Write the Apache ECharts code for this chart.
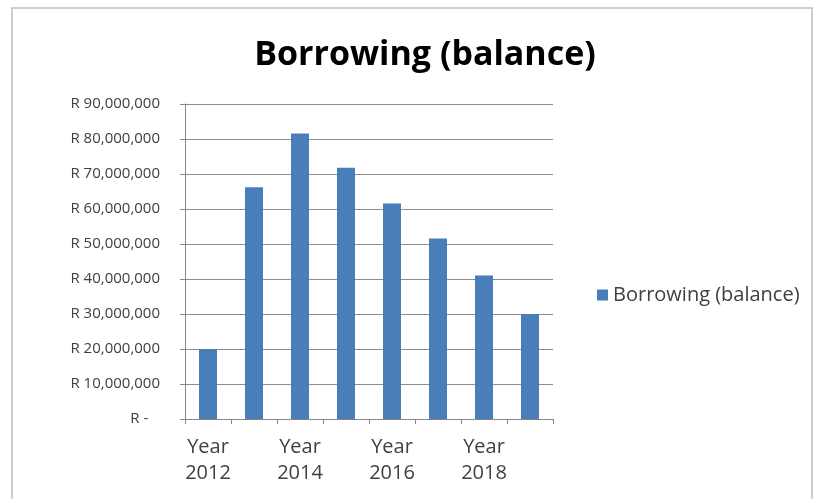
<!DOCTYPE html>
<html>
<head>
<meta charset="utf-8">
<script src="https://cdn.jsdelivr.net/npm/echarts@6/dist/echarts.min.js"></script>
<style>
  html, body { margin: 0; padding: 0; background: #fff; }
  #chart { width: 825px; height: 499px; }
</style>
</head>
<body>
<div id="chart"></div>
<script>
// data
const years = ["Year\n2012", "Year\n2013", "Year\n2014", "Year\n2015", "Year\n2016", "Year\n2017", "Year\n2018", "Year\n2019"];
const balance = [20000000, 66200000, 81600000, 71800000, 61600000, 51600000, 41000000, 30000000];
const seriesName = "Borrowing (balance)";

const chart = echarts.init(document.getElementById("chart"));

// R 90,000,000 style (zero shows as "R -")
function rand(v) {
  if (v === 0) return "R -   ";
  return "R " + v.toLocaleString("en-US");
}

const option = {
  backgroundColor: "#fff",
  animation: false,
  title: {
    text: "Borrowing (balance)",
    left: 420,
    textAlign: "center",
    top: 33,
    textStyle: {
      fontFamily: "Open Sans",
      fontWeight: "bold",
      fontSize: 34,
      color: "#000"
    }
  },
  graphic: [
    {
      type: "rect",
      shape: { x: 12, y: 8, width: 800, height: 500 },
      style: { fill: "none", stroke: "#bfbfbf", lineWidth: 1.5 },
      silent: true
    }
  ],
  legend: {
    data: [seriesName],
    left: 592,
    top: 280,
    icon: "rect",
    itemWidth: 11,
    itemHeight: 11,
    itemGap: 6,
    textStyle: {
      fontFamily: "Open Sans",
      fontSize: 20,
      color: "#404040"
    }
  },
  grid: {
    left: 185,
    right: 272,
    top: 104,
    bottom: 80
  },
  xAxis: {
    type: "category",
    data: years,
    axisLine: { lineStyle: { color: "#868686", width: 1 } },
    axisTick: { show: true, length: 5, alignWithLabel: false, interval: 0, lineStyle: { color: "#868686" } },
    axisLabel: {
      interval: 1,
      margin: 15,
      lineHeight: 26,
      fontFamily: "Open Sans",
      fontSize: 20,
      color: "#404040"
    },
    splitLine: { show: false }
  },
  yAxis: {
    type: "value",
    min: 0,
    max: 90000000,
    interval: 10000000,
    axisLine: { show: true, lineStyle: { color: "#868686", width: 1 } },
    axisTick: { show: true, length: 5, lineStyle: { color: "#868686" } },
    axisLabel: {
      formatter: rand,
      margin: 25,
      fontFamily: "Open Sans",
      fontSize: 15,
      color: "#404040"
    },
    splitLine: { show: true, lineStyle: { color: "#8c8c8c", width: 1 } }
  },
  series: [
    {
      name: seriesName,
      type: "bar",
      data: balance,
      barWidth: 18,
      itemStyle: { color: "#4a7ebb" }
    }
  ]
};

chart.setOption(option);
</script>
</body>
</html>
